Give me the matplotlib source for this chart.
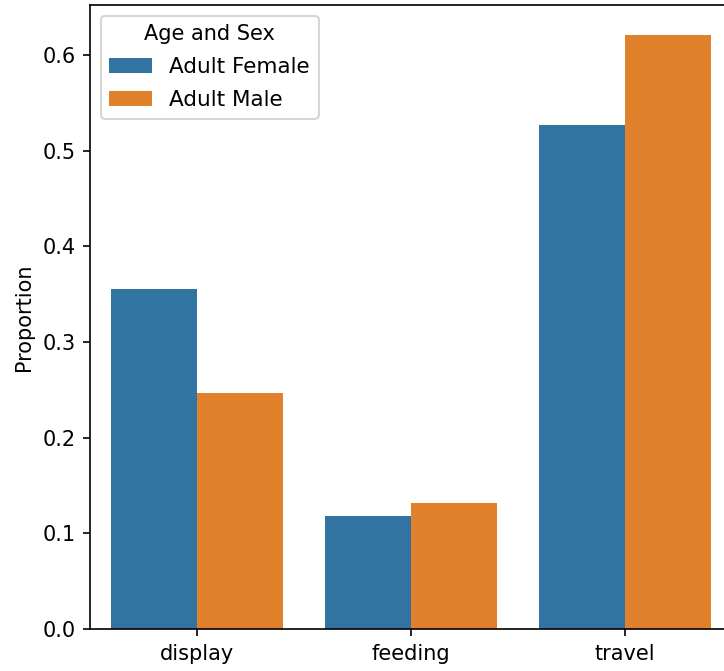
import matplotlib
matplotlib.use("Agg")
import matplotlib.pyplot as plt
import seaborn as sns
import pandas as pd

behaviours = ["display", "feeding", "travel"]
groups = ["Adult Female", "Adult Male"]
female_vals = [0.355, 0.118, 0.527]
male_vals = [0.247, 0.132, 0.621]

df = pd.DataFrame({
    "behaviour": behaviours * 2,
    "Age and Sex": [groups[0]] * 3 + [groups[1]] * 3,
    "Proportion": female_vals + male_vals,
})

plt.rcParams['font.family'] = ['DejaVu Sans']
fig = plt.figure(figsize=(724 / 150, 671 / 150), dpi=150)
ax = fig.add_axes([90 / 724, 42 / 671, 642 / 724, 624 / 671])
sns.barplot(data=df, x="behaviour", y="Proportion", hue="Age and Sex",
            order=behaviours, hue_order=groups, ax=ax)
ax.set_xlabel("")
ax.set_ylabel("Proportion")
ax.legend(title="Age and Sex", loc="upper left", fontsize=10.3,
          labelspacing=0.6)
fig.savefig("out.png", dpi=150)
